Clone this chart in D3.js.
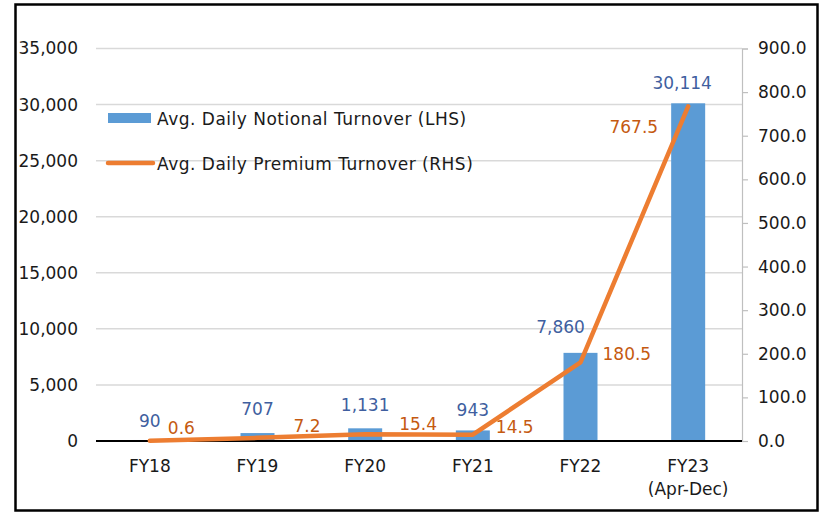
<!DOCTYPE html>
<html><head><meta charset="utf-8">
<script src="https://cdn.jsdelivr.net/npm/d3@7"></script>
<style>body{margin:0;background:#fff}svg{display:block}</style>
</head><body>
<svg id="c" width="827" height="519"></svg>
<script>
const categories = ["FY18","FY19","FY20","FY21","FY22","FY23"];
const categorySub = ["","","","","","(Apr-Dec)"];
const notional = [90, 707, 1131, 943, 7860, 30114];
const premium = [0.6, 7.2, 15.4, 14.5, 180.5, 767.5];
const leftTicks = [0,5000,10000,15000,20000,25000,30000,35000];
const rightTicks = [0,100,200,300,400,500,600,700,800,900];
const seriesNames = ["Avg. Daily Notional Turnover (LHS)","Avg. Daily Premium Turnover (RHS)"];

// label nudges (layout only)
const barLabelNudge = [[0,-13],[0,-18],[0,-17],[0,-14],[-20,-20],[-6,-14]];
const lineLabelNudge = [[18,-7],[36,-6],[34,-4],[23,-2],[22,-2],[-30,27]];

const FONT = "DejaVu Sans";
const FS = 17;
const svg = d3.select("#c");
const m = {l:96, r:742, t:48.5, b:441};

svg.append("rect").attr("x",15.5).attr("y",4.5).attr("width",802).attr("height",506)
  .attr("fill","#fff").attr("stroke","#000").attr("stroke-width",2.5);

const x = d3.scaleBand().domain(categories).range([m.l,m.r]).paddingInner(0).paddingOuter(0);
const yL = d3.scaleLinear().domain([0,35000]).range([m.b,m.t]);
const yR = d3.scaleLinear().domain([0,900]).range([m.b,m.t]);

// gridlines
svg.append("g").selectAll("line").data(leftTicks.filter(d=>d>0)).join("line")
  .attr("x1",m.l).attr("x2",m.r).attr("y1",d=>yL(d)).attr("y2",d=>yL(d))
  .attr("stroke","#d9d9d9").attr("stroke-width",1.5);

// left axis
const gL = svg.append("g").attr("transform",`translate(${m.l},0)`)
  .call(d3.axisLeft(yL).tickValues(leftTicks).tickSize(0).tickPadding(18).tickFormat(d3.format(",")));
gL.select(".domain").remove();
gL.selectAll("text").attr("font-family",FONT).attr("font-size",FS).attr("fill","#1a1a1a");

// right axis
const gR = svg.append("g").attr("transform",`translate(${m.r},0)`)
  .call(d3.axisRight(yR).tickValues(rightTicks).tickSize(6).tickPadding(10).tickFormat(d3.format(".1f")));
gR.select(".domain").attr("stroke","#bfbfbf").attr("stroke-width",1.2);
gR.selectAll(".tick line").attr("stroke","#bfbfbf").attr("stroke-width",1.2);
gR.selectAll("text").attr("font-family",FONT).attr("font-size",FS).attr("fill","#1a1a1a");

// bars
const bw = 34;
svg.append("g").selectAll("rect").data(notional).join("rect")
  .attr("x",(d,i)=>x(categories[i])+x.bandwidth()/2-bw/2)
  .attr("y",d=>yL(d)).attr("width",bw).attr("height",d=>m.b-yL(d))
  .attr("fill","#5b9bd5");

// baseline
svg.append("line").attr("x1",m.l).attr("x2",m.r).attr("y1",m.b).attr("y2",m.b)
  .attr("stroke","#000").attr("stroke-width",2);

// category labels
const gx = svg.append("g");
categories.forEach((c,i)=>{
  gx.append("text").attr("x",x(c)+x.bandwidth()/2).attr("y",472)
    .attr("text-anchor","middle").attr("font-family",FONT).attr("font-size",FS).attr("fill","#1a1a1a").text(c);
  if(categorySub[i]) gx.append("text").attr("x",x(c)+x.bandwidth()/2).attr("y",495)
    .attr("text-anchor","middle").attr("font-family",FONT).attr("font-size",FS).attr("fill","#1a1a1a").text(categorySub[i]);
});

// line
const line = d3.line().x((d,i)=>x(categories[i])+x.bandwidth()/2).y(d=>yR(d));
svg.append("path").datum(premium).attr("d",line).attr("fill","none")
  .attr("stroke","#ed7d31").attr("stroke-width",4.5).attr("stroke-linejoin","round").attr("stroke-linecap","round");

// bar labels
svg.append("g").selectAll("text").data(notional).join("text")
  .attr("x",(d,i)=>x(categories[i])+x.bandwidth()/2+barLabelNudge[i][0])
  .attr("y",(d,i)=>yL(d)+barLabelNudge[i][1])
  .attr("text-anchor","middle").attr("font-family",FONT).attr("font-size",FS).attr("fill","#3f5f9f")
  .text(d=>d3.format(",")(d));

// line labels
svg.append("g").selectAll("text").data(premium).join("text")
  .attr("x",(d,i)=>x(categories[i])+x.bandwidth()/2+lineLabelNudge[i][0])
  .attr("y",(d,i)=>yR(d)+lineLabelNudge[i][1])
  .attr("text-anchor",(d,i)=>lineLabelNudge[i][0]<0?"end":"start")
  .attr("font-family",FONT).attr("font-size",FS).attr("fill","#c55a11")
  .text(d=>d3.format(".1f")(d));

// legend
const lg = svg.append("g");
lg.append("rect").attr("x",108).attr("y",113).attr("width",43).attr("height",10).attr("fill","#5b9bd5");
lg.append("text").attr("x",157).attr("y",125).attr("font-family",FONT).attr("font-size",FS)
  .attr("letter-spacing",0.5).attr("fill","#1a1a1a").text(seriesNames[0]);
lg.append("line").attr("x1",108).attr("x2",153).attr("y1",163).attr("y2",163)
  .attr("stroke","#ed7d31").attr("stroke-width",4.5).attr("stroke-linecap","round");
lg.append("text").attr("x",157).attr("y",170).attr("font-family",FONT).attr("font-size",FS)
  .attr("letter-spacing",0.5).attr("fill","#1a1a1a").text(seriesNames[1]);
</script>
</body></html>
